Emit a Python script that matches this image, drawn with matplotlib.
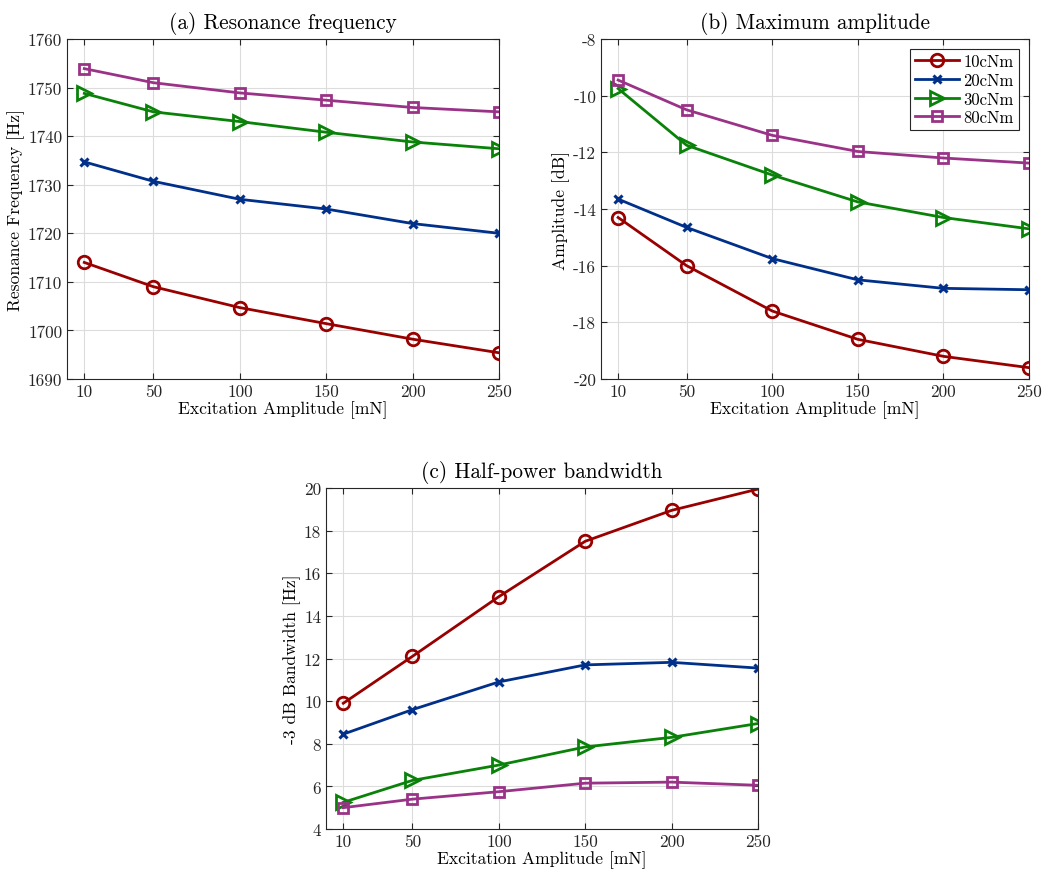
import matplotlib
matplotlib.use("Agg")
import matplotlib.pyplot as plt

plt.rcParams["font.family"] = "cmr10"
plt.rcParams["mathtext.fontset"] = "cm"
plt.rcParams["axes.unicode_minus"] = False
plt.rcParams["axes.formatter.use_mathtext"] = False

excitation = [10, 50, 100, 150, 200, 250]
labels = ["10cNm", "20cNm", "30cNm", "80cNm"]

freq_10 = [1714.0, 1709.0, 1704.7, 1701.4, 1698.2, 1695.4]
freq_20 = [1734.7, 1730.7, 1727.0, 1725.0, 1722.0, 1720.0]
freq_30 = [1748.8, 1745.0, 1743.0, 1740.8, 1738.8, 1737.4]
freq_80 = [1753.9, 1751.0, 1748.9, 1747.4, 1745.9, 1745.0]

amp_10 = [-14.3, -16.0, -17.6, -18.6, -19.2, -19.6]
amp_20 = [-13.65, -14.65, -15.75, -16.5, -16.8, -16.85]
amp_30 = [-9.75, -11.75, -12.8, -13.75, -14.3, -14.7]
amp_80 = [-9.45, -10.5, -11.4, -11.97, -12.2, -12.38]

bw_10 = [9.9, 12.1, 14.9, 17.5, 18.95, 19.95]
bw_20 = [8.45, 9.6, 10.9, 11.7, 11.82, 11.55]
bw_30 = [5.25, 6.28, 7.0, 7.85, 8.3, 8.95]
bw_80 = [5.0, 5.4, 5.75, 6.15, 6.2, 6.05]

colors = ["#990000", "#00308a", "#0a820a", "#9a3388"]
markers = ["o", "x", ">", "s"]
msizes = [9, 6, 10, 7]


def style_axes(ax, ylim, yticks, ylabel, title):
    ax.set_xlim(0, 250)
    ax.set_xticks(excitation)
    ax.set_ylim(*ylim)
    ax.set_yticks(yticks)
    ax.set_xlabel("Excitation Amplitude [mN]", fontsize=12.6, labelpad=1)
    ax.set_ylabel(ylabel, fontsize=12.6, labelpad=2)
    ax.set_title(title, fontsize=15.3, pad=8)
    ax.grid(True, color="#dcdcdc", linewidth=0.8)
    ax.set_axisbelow(True)
    ax.tick_params(direction="in", top=True, right=True, labelsize=12.3,
                   colors="#262626", length=4)
    for s in ax.spines.values():
        s.set_color("#262626")
        s.set_linewidth(0.8)


def draw(ax, series):
    for y, c, m, ms, lab in zip(series, colors, markers, msizes, labels):
        if m == "x":
            ax.plot(excitation, y, color=c, marker=m, markersize=ms,
                    markeredgewidth=2.2, linewidth=2, label=lab)
        else:
            ax.plot(excitation, y, color=c, marker=m, markersize=ms,
                    markerfacecolor="none", markeredgewidth=2,
                    linewidth=2, label=lab)


fig = plt.figure(figsize=(10.49, 8.78), dpi=100)
W, H = 1049.0, 878.0
ax1 = fig.add_axes([67 / W, 1 - 380 / H, 432 / W, 340 / H])
ax2 = fig.add_axes([601 / W, 1 - 380 / H, 428 / W, 340 / H])
ax3 = fig.add_axes([326 / W, 1 - 830 / H, 432 / W, 341 / H])

draw(ax1, [freq_10, freq_20, freq_30, freq_80])
style_axes(ax1, (1690, 1760), range(1690, 1761, 10),
           "Resonance Frequency [Hz]", "(a) Resonance frequency")

draw(ax2, [amp_10, amp_20, amp_30, amp_80])
style_axes(ax2, (-20, -8), range(-20, -7, 2),
           "Amplitude [dB]", "(b) Maximum amplitude")
leg = ax2.legend(loc="upper right", fontsize=12, fancybox=False,
                 framealpha=1, edgecolor="#262626", handlelength=2.6,
                 borderpad=0.3, labelspacing=0.2, handletextpad=0.3,
                 borderaxespad=0.6)
leg.get_frame().set_linewidth(0.8)

draw(ax3, [bw_10, bw_20, bw_30, bw_80])
style_axes(ax3, (4, 20), range(4, 21, 2),
           "-3 dB Bandwidth [Hz]", "(c) Half-power bandwidth")

fig.savefig("out.png", dpi=100)
